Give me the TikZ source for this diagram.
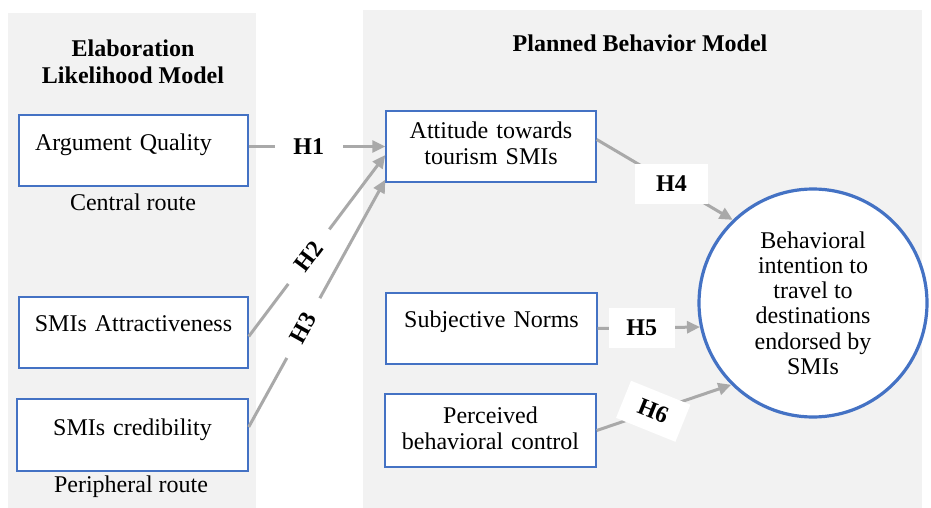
\documentclass[tikz,border=0pt]{standalone}
\usepackage{fontspec}
\setmainfont{Liberation Serif}
\usepackage{xcolor}
\definecolor{panelgray}{HTML}{F2F2F2}
\definecolor{linkgray}{HTML}{A9A9A9}
\definecolor{wordblue}{HTML}{4472C4}
\usetikzlibrary{arrows.meta, positioning, shapes.geometric}

\begin{document}
\begin{tikzpicture}[
  x=0.5pt, y=-0.5pt,
  panel/.style={fill=panelgray},
  head/.style={align=center, font=\fontsize{12}{13.5}\selectfont\bfseries},
  route/.style={font=\fontsize{12}{13}\selectfont},
  construct/.style={draw=wordblue, line width=0.7pt, fill=white, inner sep=0pt,
                    align=center, font=\fontsize{12}{13}\selectfont},
  outcome/.style={draw=wordblue, circle, line width=1.6pt, fill=white,
                  minimum size=114pt, inner sep=0pt, align=center,
                  font=\fontsize{12}{12.6}\selectfont},
  link/.style={-{Triangle[length=6.5pt, width=6pt]}, linkgray, line width=1.5pt},
  hyp/.style={fill=white, text=black, inner sep=0pt, minimum width=34pt,
              minimum height=20pt, font=\fontsize{12}{13}\selectfont\bfseries}
]
\path[use as bounding box, fill=white] (0,0) rectangle (931,508);

% model panels
\fill[panel] (8,13) rectangle (256,508);
\fill[panel] (363,10) rectangle (922,508);

\node[head] (elm) at (133,61.5) {Elaboration\\Likelihood Model};
\node[head] (tpb) at (640,43) {Planned Behavior Model};

% ELM constructs
\node[construct, align=left, inner xsep=8pt, text width=98.5pt,
      text height=17.5pt, text depth=18pt] (aq) at (133.5,150.5) {Argument Quality};
\node[route] (central) at (133,202) {Central route};
\node[construct, text width=114.5pt, text height=17pt, text depth=18.5pt]
  (sa) at (133.5,332.5) {SMIs Attractiveness};
\node[construct, text width=115.5pt, text height=18pt, text depth=18pt]
  (sc) at (132.5,435) {SMIs credibility};
\node[route] (peripheral) at (131,487) {Peripheral route};

% TPB constructs
\node[construct, text width=105pt, text height=14pt, text depth=21.5pt]
  (att) at (491,146.5) {Attitude towards\\tourism SMIs};
\node[construct, text width=105.5pt, text height=17pt, text depth=18.5pt]
  (sn) at (491.5,328.5) {Subjective Norms};
\node[construct, text width=105.5pt, text height=14.5pt, text depth=22pt]
  (pbc) at (490.5,430.5) {Perceived\\behavioral control};

\node[outcome] (bi) at (813,303)
  {Behavioral\\intention to\\travel to\\destinations\\endorsed by\\SMIs};

% hypotheses
\draw[link] (aq.east |- att.west) -- node[hyp, pos=.44] (h1) {H1} (att.west);
\draw[link] ([yshift=-2pt]sa.east) -- node[hyp, sloped, pos=.44] (h2) {H2}
  ([yshift=-4.25pt]att.west);
\draw[link] ([yshift=4pt]sc.east) -- node[hyp, sloped, pos=.40] (h3) {H3}
  ([yshift=1.5pt]att.south west);
\draw[link] ([yshift=3.5pt]att.east) -- node[hyp, minimum width=36.5pt, pos=.55] (h4) {H4}
  (bi.134);
\draw[link] (sn.east) -- node[hyp, minimum width=33pt, pos=.43] (h5) {H5} (bi.192);
\draw[link] (pbc.east) -- node[hyp, minimum width=32pt, rotate=-22, pos=.42] (h6) {H6}
  (bi.225);
\end{tikzpicture}
\end{document}
